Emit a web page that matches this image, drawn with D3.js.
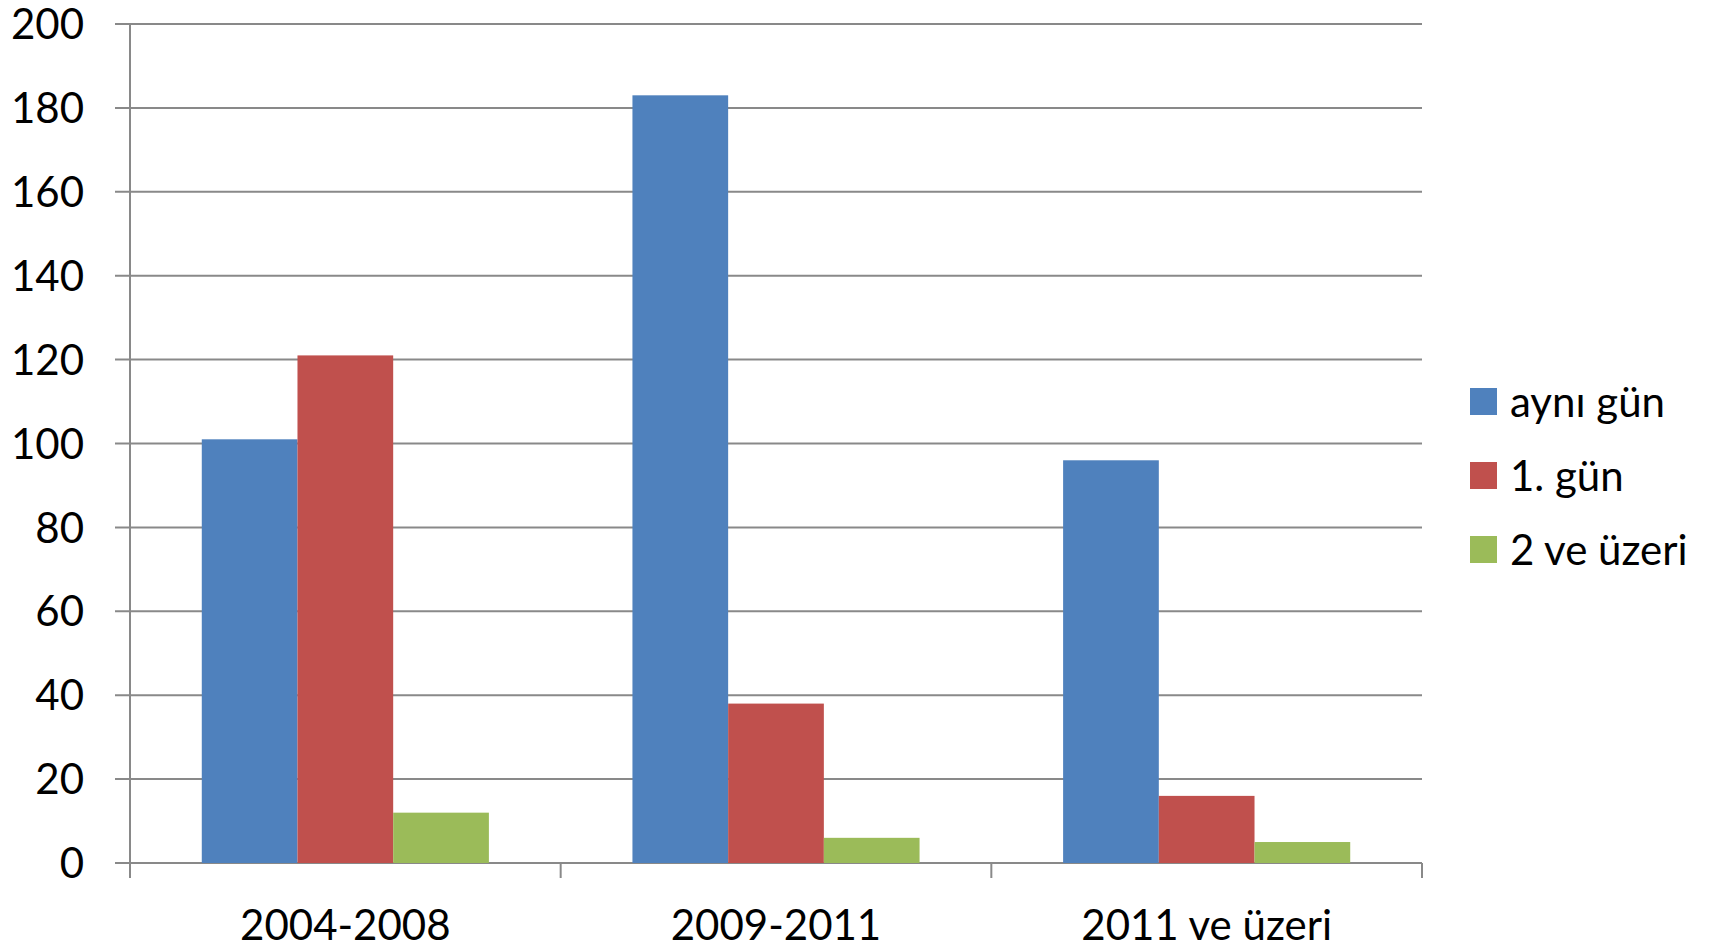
<!DOCTYPE html>
<html>
<head>
<meta charset="utf-8">
<script src="https://cdn.jsdelivr.net/npm/d3@7"></script>
<style>
  body { margin: 0; background: #fff; }
  text { font-family: Lato, "Open Sans", sans-serif; fill: #000; }
</style>
</head>
<body>
<div id="vis"></div>
<script>
// chart data
var categories = ['2004-2008', '2009-2011', '2011 ve üzeri'];
var seriesNames = ['aynı gün', '1. gün', '2 ve üzeri'];
var aynıGun = [101, 183, 96];
var birinciGun = [121, 38, 16];
var ikiVeUzeri = [12, 6, 5];
var yTicks = [0, 20, 40, 60, 80, 100, 120, 140, 160, 180, 200];
var colors = ['#4F81BD', '#C0504D', '#9BBB59'];

var seriesValues = [aynıGun, birinciGun, ikiVeUzeri];

var width = 1719;
var height = 950;
var margin = { top: 24, left: 130, bottom: 87, right: 297 };

var svg = d3.select('#vis').append('svg')
  .attr('width', width)
  .attr('height', height);

var plotW = width - margin.left - margin.right;
var plotH = height - margin.top - margin.bottom;

var g = svg.append('g')
  .attr('transform', 'translate(' + margin.left + ',' + margin.top + ')');

var x0 = d3.scaleBand().domain(categories).range([0, plotW]).padding(0);
// gap width 150% -> gap is 1.5 bar widths
var gap = x0.bandwidth() / 4.5 * 1.5;
var x1 = d3.scaleBand().domain(seriesNames)
  .range([gap / 2, x0.bandwidth() - gap / 2]).padding(0);
var y = d3.scaleLinear().domain([0, 200]).range([plotH, 0]);

// gridlines
g.selectAll('.grid')
  .data(yTicks)
  .enter()
  .append('line')
  .attr('x1', -15)
  .attr('x2', plotW)
  .attr('y1', function (d) { return y(d); })
  .attr('y2', function (d) { return y(d); })
  .attr('stroke', '#898989')
  .attr('stroke-width', 2);

// y labels
g.selectAll('.ylab')
  .data(yTicks)
  .enter()
  .append('text')
  .attr('x', -46)
  .attr('y', function (d) { return y(d); })
  .attr('dy', '0.36em')
  .attr('text-anchor', 'end')
  .style('font-size', '42px')
  .text(function (d) { return d; });

// bars
var rows = [];
for (var s = 0; s < seriesNames.length; s++) {
  for (var c = 0; c < categories.length; c++) {
    rows.push({ cat: categories[c], ser: seriesNames[s], v: seriesValues[s][c], col: colors[s] });
  }
}
g.selectAll('.bar')
  .data(rows)
  .enter()
  .append('rect')
  .attr('x', function (d) { return x0(d.cat) + x1(d.ser); })
  .attr('y', function (d) { return y(d.v); })
  .attr('width', x1.bandwidth())
  .attr('height', function (d) { return plotH - y(d.v); })
  .attr('fill', function (d) { return d.col; });

// y axis line
g.append('line')
  .attr('x1', 0).attr('x2', 0)
  .attr('y1', 0).attr('y2', plotH + 15)
  .attr('stroke', '#898989')
  .attr('stroke-width', 2);

// x ticks
var xt = [0].concat(categories.map(function (d) { return x0(d) + x0.bandwidth(); }));
g.selectAll('.xtick')
  .data(xt)
  .enter()
  .append('line')
  .attr('x1', function (d) { return d; })
  .attr('x2', function (d) { return d; })
  .attr('y1', plotH)
  .attr('y2', plotH + 15)
  .attr('stroke', '#898989')
  .attr('stroke-width', 2);

// x labels
g.selectAll('.xlab')
  .data(categories)
  .enter()
  .append('text')
  .attr('x', function (d) { return x0(d) + x0.bandwidth() / 2; })
  .attr('y', plotH + 77)
  .attr('text-anchor', 'middle')
  .style('font-size', '42px')
  .text(function (d) { return d; });

// legend
var legend = svg.append('g')
  .attr('transform', 'translate(1470,388)');
var items = legend.selectAll('.leg')
  .data(seriesNames)
  .enter()
  .append('g')
  .attr('transform', function (d, i) { return 'translate(0,' + (i * 74) + ')'; });
items.append('rect')
  .attr('width', 27)
  .attr('height', 27)
  .attr('fill', function (d, i) { return colors[i]; });
items.append('text')
  .attr('x', 40)
  .attr('y', 13.5)
  .attr('dy', '0.36em')
  .style('font-size', '42px')
  .text(function (d) { return d; });
</script>
</body>
</html>
